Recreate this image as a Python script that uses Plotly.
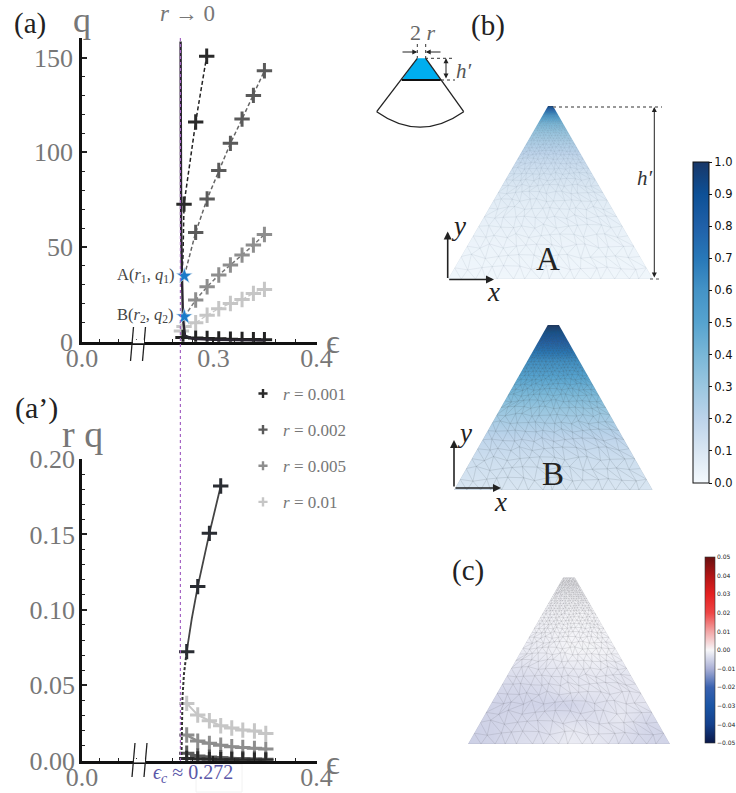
import plotly.graph_objects as go

W, H = 736, 793
SERIF = "Liberation Serif"
GREY = "#777777"

# ---------- panel (a): q vs epsilon ----------
eps_r001 = [0.2715, 0.2828, 0.2935]
q_r001 = [72.6, 116, 150.7]
eps_r001_line = [0.2690, 0.2705, 0.2715, 0.2828, 0.2935]
q_r001_line = [30, 45, 72.6, 116, 150.7]
eps_r002 = [0.2828, 0.2939, 0.3052, 0.3165, 0.3278, 0.3388, 0.3495]
q_r002 = [57.7, 75.3, 90.4, 104.7, 117.5, 130, 143]
eps_r005 = [0.2828, 0.2939, 0.3052, 0.3165, 0.3278, 0.3388, 0.3495]
q_r005 = [22, 29, 35.2, 40.5, 45.7, 51, 56.6]
eps_r01 = [0.2690, 0.2715, 0.2828, 0.2939, 0.3052, 0.3165, 0.3278, 0.3388, 0.3495]
q_r01 = [5.6, 8, 10, 14, 17.4, 20.2, 22.3, 25.5, 27.6]
eps_low = [0.2705, 0.2828, 0.2939, 0.3052, 0.3165, 0.3278, 0.3388, 0.3495]
q_low = [2.2, 1.9, 1.7, 1.5, 1.3, 1.2, 1.1, 1.0]
eps_limit = [0.2682, 0.2684, 0.2687, 0.2695, 0.2705, 0.2725, 0.28, 0.30, 0.35]
q_limit = [158.5, 100, 60, 35, 12, 3.2, 1.5, 1.0, 0.5]
star_eps = [0.2718, 0.2718]
star_q = [34.7, 13.2]

# ---------- panel (a'): r*q vs epsilon ----------
eps2_r001 = [0.2741, 0.2848, 0.2961, 0.3071]
rq_r001 = [0.0723, 0.1154, 0.1507, 0.1821]
eps2_curve = [0.2690, 0.2694, 0.2700, 0.2715, 0.2741, 0.2790, 0.2848, 0.2961, 0.3071]
rq_curve = [0.0005, 0.020, 0.042, 0.058, 0.0723, 0.094, 0.1154, 0.1507, 0.1821]
eps2_grid = [0.2741, 0.2848, 0.2961, 0.3071, 0.3178, 0.3285, 0.3398, 0.3508]
rq_r01 = [0.038, 0.0303, 0.0265, 0.0232, 0.0217, 0.0203, 0.0197, 0.0181]
rq_r005 = [0.017, 0.013, 0.0115, 0.0102, 0.0093, 0.0088, 0.0082, 0.0077]
rq_r002 = [0.0049, 0.0031, 0.0024, 0.0020, 0.0015, 0.0013, 0.0011, 0.0009]
rq_r0005 = [0.0015, 0.0011, 0.0009, 0.0007, 0.0006, 0.0005, 0.0004, 0.0003]

legend_labels = ["<i>r</i> = 0.001", "<i>r</i> = 0.002", "<i>r</i> = 0.005", "<i>r</i> = 0.01"]
series_colors = ["#2a2a2a", "#5a5a5a", "#8e8e8e", "#c6c6c6"]
x_labels_a = ["0.0", "0.3", "0.4"]
x_labels_a2 = ["0.0", "", "0.4"]

# ---------- field profiles: height above base (0) to top (1) ----------
levels_A = [0, 0.2, 0.4, 0.5, 0.6, 0.7, 0.8, 0.85, 0.9, 0.93, 0.96, 0.98, 1]
field_A = [0.015, 0.03, 0.055, 0.08, 0.12, 0.17, 0.25, 0.31, 0.40, 0.5, 0.65, 0.8, 0.97]
levels_B = [0, 0.18, 0.29, 0.39, 0.49, 0.59, 0.69, 0.79, 0.89, 0.95, 1]
field_B = [0.10, 0.14, 0.18, 0.24, 0.31, 0.40, 0.5, 0.62, 0.78, 0.88, 1.0]
levels_C = [0, 0.08, 0.16, 0.24, 0.32, 0.42, 0.55, 0.75, 1]
columns_C = [-1, -0.75, -0.5, -0.25, 0, 0.25, 0.5, 0.75, 1]
field_C = [
    [-0.0055, -0.0050, -0.0035, -0.0030, -0.0015, -0.0020, -0.0035, -0.0045, -0.0050],
    [-0.0055, -0.0050, -0.0040, -0.0035, -0.0020, -0.0025, -0.0030, -0.0045, -0.0050],
    [-0.0050, -0.0050, -0.0045, -0.0040, -0.0035, -0.0035, -0.0020, -0.0040, -0.0045],
    [-0.0050, -0.0050, -0.0050, -0.0050, -0.0050, -0.0035, -0.0025, -0.0025, -0.0040],
    [-0.0045, -0.0045, -0.0045, -0.0040, -0.0025, -0.0025, -0.0025, -0.0025, -0.0035],
    [-0.0035, -0.0035, -0.0035, -0.0030, -0.0025, -0.0020, -0.0025, -0.0025, -0.0025],
    [-0.0020, -0.0020, -0.0020, -0.0015, -0.0005, -0.0005, -0.0010, -0.0015, -0.0015],
    [-0.0008, -0.0008, -0.0008, -0.0008, -0.0003, -0.0003, -0.0008, -0.0008, -0.0008],
    [-0.0003, -0.0003, -0.0003, -0.0003, -0.0003, -0.0003, -0.0003, -0.0003, -0.0003],
]
mesh_rows = [0, 0.065, 0.13, 0.19, 0.25, 0.305, 0.36, 0.41, 0.455, 0.5, 0.54, 0.575, 0.61,
             0.64, 0.67, 0.695, 0.72, 0.74, 0.76, 0.78, 0.8, 0.815, 0.83, 0.845, 0.86,
             0.873, 0.886, 0.898, 0.91, 0.92, 0.93, 0.94, 0.95, 0.958, 0.966, 0.974, 0.982, 0.991, 1]
mesh_wobble = [0.21, -0.33, 0.08, 0.37, -0.14, -0.41, 0.29, -0.05, 0.44, -0.26, 0.12, -0.38, 0.33, -0.19, 0.03, 0.41, -0.29]

blues = [[0, "#f4f9fd"], [0.1, "#d9e6f2"], [0.2, "#bcd3ea"], [0.3, "#9bc7e0"], [0.4, "#79b7d7"],
         [0.5, "#56a3cf"], [0.6, "#4493c6"], [0.7, "#2878b8"], [0.8, "#2060a8"], [0.9, "#0d5096"], [1, "#183768"]]
seismic = [[0, "#0a1848"], [0.1, "#14408c"], [0.2, "#1a55a5"], [0.3, "#3a62b0"], [0.4, "#aab0d6"],
           [0.5, "#f7f7f9"], [0.6, "#f2a5a5"], [0.7, "#ee4545"], [0.8, "#e42020"], [0.9, "#b01515"], [1, "#681010"]]


def px(x):
    return x / W


def py(y):
    return 1 - y / H


def path_pts(pts, close=True):
    s = "M " + " L ".join(f"{px(x):.5f},{py(y):.5f}" for x, y in pts)
    return s + (" Z" if close else "")


def ann(text, x, y, size=26, color="#222222", family=SERIF):
    return dict(text=text, x=px(x), y=py(y), xref="paper", yref="paper", showarrow=False,
                xanchor="center", yanchor="middle", font=dict(size=size, color=color, family=family))


def arrow(x1, y1, x0, y0, width=1.6, head=2, size=1, side="end", color="#222222"):
    return dict(text="", x=px(x1), y=py(y1), ax=x0 - x1, ay=y0 - y1, xref="paper", yref="paper",
                axref="pixel", ayref="pixel", showarrow=True, arrowhead=head, arrowsize=size,
                arrowwidth=width, arrowcolor=color, arrowside=side, startarrowhead=head, startarrowsize=size)


def line(x0, y0, x1, y1, color="#222222", width=1, dash="solid"):
    return dict(type="line", xref="paper", yref="paper", x0=px(x0), y0=py(y0), x1=px(x1), y1=py(y1),
                line=dict(color=color, width=width, dash=dash), layer="above")


def cross_trace(x, y, color, xa, ya, size=11, lw=3):
    return go.Scatter(x=x, y=y, mode="markers", xaxis=xa, yaxis=ya, showlegend=False, hoverinfo="skip",
                      marker=dict(symbol="cross-thin", size=size, line=dict(color=color, width=lw)))


def line_trace(x, y, color, xa, ya, width=1.5, dash="4px,2.5px"):
    return go.Scatter(x=x, y=y, mode="lines", xaxis=xa, yaxis=ya, showlegend=False, hoverinfo="skip",
                      line=dict(color=color, width=width, dash=dash))


def mesh_trace(top_half, xa, ya, width_px, height_px, color):
    rows = []
    k = 0
    for i, f in enumerate(mesh_rows):
        half = 1 + (top_half - 1) * f
        gap_f = mesh_rows[i + 1] - f if i + 1 < len(mesh_rows) else f - mesh_rows[i - 1]
        n = max(1, round(width_px * half / (gap_f * height_px * 1.15)))
        row = []
        for j in range(n + 1):
            k += 1
            a = mesh_wobble[k % len(mesh_wobble)]
            b = mesh_wobble[(k * 3 + 5) % len(mesh_wobble)]
            edge = j in (0, n)
            inner_row = 0 < i < len(mesh_rows) - 1
            xv = -half + 2 * half * j / n + (0 if edge else a * 0.8 * half / n)
            yv = f + (b * 0.5 * gap_f if (inner_row and not edge) else 0)
            row.append((xv, yv))
        rows.append(row)
    xs, ys = [], []

    def seg(a, b):
        xs.extend([a[0], b[0], None])
        ys.extend([a[1], b[1], None])

    for r in rows:
        for a, b in zip(r[:-1], r[1:]):
            seg(a, b)
    for lo, hi in zip(rows[:-1], rows[1:]):
        i = j = 0
        seg(lo[0], hi[0])
        while i < len(lo) - 1 or j < len(hi) - 1:
            adv_lo = j >= len(hi) - 1 or (i < len(lo) - 1 and (i + 1) / len(lo) <= (j + 1) / len(hi))
            if adv_lo:
                i += 1
            else:
                j += 1
            seg(lo[i], hi[j])
    return go.Scatter(x=xs, y=ys, mode="lines", xaxis=xa, yaxis=ya, showlegend=False, hoverinfo="skip",
                      line=dict(color=color, width=0.5))


fig = go.Figure()

# panel (a)
fig.add_trace(line_trace(eps_r01[1:], q_r01[1:], "#c6c6c6", "x", "y", 1.2))
fig.add_trace(line_trace(star_eps[1:] + eps_r005, star_q[1:] + q_r005, "#777777", "x", "y"))
fig.add_trace(line_trace(star_eps[:1] + eps_r002, star_q[:1] + q_r002, "#666666", "x", "y"))
fig.add_trace(line_trace(eps_r001_line, q_r001_line, "#222222", "x", "y"))
fig.add_trace(cross_trace(eps_r01, q_r01, series_colors[3], "x", "y"))
fig.add_trace(cross_trace(eps_r005, q_r005, series_colors[2], "x", "y"))
fig.add_trace(cross_trace(eps_r002, q_r002, series_colors[1], "x", "y"))
fig.add_trace(cross_trace(eps_r001, q_r001, series_colors[0], "x", "y"))
fig.add_trace(cross_trace(eps_low, q_low, "#222222", "x", "y"))
fig.add_trace(line_trace(eps_limit, q_limit, "#2a2530", "x", "y", 2.4, "solid"))
fig.add_trace(go.Scatter(x=star_eps, y=star_q, mode="markers", showlegend=False, hoverinfo="skip",
                         marker=dict(symbol="star", size=12, color="#1a7ac9",
                                     line=dict(color="#dfe9f2", width=0.6))))

# panel (a')
fig.add_trace(line_trace(eps2_grid, rq_r01, "#c6c6c6", "x2", "y2", 2, "solid"))
fig.add_trace(line_trace(eps2_grid, rq_r005, "#8e8e8e", "x2", "y2", 2.5, "solid"))
fig.add_trace(line_trace(eps2_grid, rq_r002, "#5a5a5a", "x2", "y2", 2.5, "solid"))
fig.add_trace(line_trace(eps2_grid, rq_r0005, "#2a2a2a", "x2", "y2", 2.5, "solid"))
fig.add_trace(cross_trace(eps2_grid, rq_r01, series_colors[3], "x2", "y2"))
fig.add_trace(cross_trace(eps2_grid, rq_r005, series_colors[2], "x2", "y2"))
fig.add_trace(cross_trace(eps2_grid, rq_r002, series_colors[1], "x2", "y2"))
fig.add_trace(cross_trace(eps2_grid, rq_r0005, series_colors[0], "x2", "y2"))
fig.add_trace(line_trace(eps2_curve[:5], rq_curve[:5], "#333333", "x2", "y2", 2, "3px,2px"))
fig.add_trace(line_trace(eps2_curve[4:], rq_curve[4:], "#444444", "x2", "y2", 1.8, "solid"))
fig.add_trace(cross_trace(eps2_r001, rq_r001, "#2a2d33", "x2", "y2"))

# legend entries
for label, col in zip(legend_labels, series_colors):
    fig.add_trace(go.Scatter(x=[None], y=[None], mode="markers", name=label, legendgroup=label, showlegend=True,
                             xaxis="x2", yaxis="y2",
                             marker=dict(symbol="cross-thin", size=6.5, line=dict(color=col, width=2.4))))

# triangles
fig.add_trace(go.Heatmap(x=[-1, 1], y=levels_A, z=[[v, v] for v in field_A], coloraxis="coloraxis",
                         zsmooth="best", xaxis="x3", yaxis="y3", hoverinfo="skip"))
fig.add_trace(mesh_trace(0.02, "x3", "y3", 205, 173, "rgba(110,130,150,0.22)"))
fig.add_trace(go.Heatmap(x=[-1, 1], y=levels_B, z=[[v, v] for v in field_B], coloraxis="coloraxis",
                         zsmooth="best", xaxis="x4", yaxis="y4", hoverinfo="skip"))
fig.add_trace(mesh_trace(0.057, "x4", "y4", 198, 165, "rgba(70,80,90,0.3)"))
fig.add_trace(go.Heatmap(x=columns_C, y=levels_C, z=field_C, coloraxis="coloraxis2",
                         zsmooth="best", xaxis="x5", yaxis="y5", hoverinfo="skip"))
fig.add_trace(mesh_trace(0.058, "x5", "y5", 202, 167, "rgba(80,80,85,0.28)"))

# triangle boxes (left, right, top, bottom) in page pixels and top half-widths in pixels
tri_A = (448, 653, 106, 279, 2.5)
tri_B = (454, 652.7, 325, 490, 5.6)
tri_C = (468, 670, 577.3, 744, 5.9)


def domain_axes(l, r, t, b):
    return dict(domain=[l / W, r / W], visible=False, range=[-1, 1]), dict(domain=[1 - b / H, 1 - t / H], visible=False, range=[0, 1])


xa3, ya3 = domain_axes(*tri_A[:4])
xa4, ya4 = domain_axes(*tri_B[:4])
xa5, ya5 = domain_axes(*tri_C[:4])


def masks(tri):
    l, r, t, b, h = tri
    c = (l + r) / 2
    mk = dict(type="path", xref="paper", yref="paper", fillcolor="white", line=dict(width=0), layer="above")
    return [dict(mk, path=path_pts([(l - 1, t - 1), (c - h, t - 1), (c - h, t), (l, b), (l - 1, b)])),
            dict(mk, path=path_pts([(r + 1, t - 1), (c + h, t - 1), (c + h, t), (r, b), (r + 1, b)]))]


shapes = masks(tri_A) + masks(tri_B) + masks(tri_C)

# axis break marks
for (xa, xb, ytop, ybot) in [(133.5, 130.5, 327, 361), (145.5, 142.5, 327, 361),
                             (135, 132, 743, 777), (147, 144, 743, 777)]:
    shapes.append(line(xa, ytop, xb, ybot, "#222222", 1.3))
for x0, x1, yy in [(133, 144, 341.5), (134, 145, 760.7)]:
    shapes.append(line(x0, yy, x1, yy, "white", 3.5))

# critical line
shapes.append(line(180.4, 38, 180.4, 762, "#a565c4", 1.2, "dot"))
# faint box under the critical label
shapes.append(dict(type="rect", xref="paper", yref="paper", x0=px(196), x1=px(242), y0=py(764), y1=py(792),
                   line=dict(color="#f2f2f2", width=1), layer="below"))

# sector schematic
shapes.append(dict(type="path", xref="paper", yref="paper", layer="above", fillcolor="#00aeef",
                   line=dict(color="#00aeef", width=0),
                   path=path_pts([(417.3, 58.3), (425.7, 58.3), (440.7, 80), (401.7, 80)])))
shapes.append(line(417.3, 58.3, 376.7, 111.7, "#222222", 1.3))
shapes.append(line(425.7, 58.3, 463.7, 111.7, "#222222", 1.3))
shapes.append(line(401.7, 80, 440.7, 80, "#111111", 2.2))
shapes.append(dict(type="path", xref="paper", yref="paper", layer="above", line=dict(color="#222222", width=1.3),
                   path=f"M {px(376.7):.5f},{py(111.7):.5f} Q {px(420):.5f},{py(142.5):.5f} {px(463.7):.5f},{py(111.7):.5f}"))
shapes.append(line(417.3, 44, 417.3, 58, "#333333", 1, "dot"))
shapes.append(line(425.7, 44, 425.7, 58, "#333333", 1, "dot"))
shapes.append(line(425, 58.3, 455, 58.3, "#333333", 1, "dot"))
shapes.append(line(441, 80, 455, 80, "#333333", 1, "dot"))
# h' guides
shapes.append(line(553, 107, 662, 107, "#777777", 1.3, "dot"))
shapes.append(line(650, 279, 660, 279, "#555555", 1, "dot"))

annotations = [
    ann("(a)", 30, 23, 29), ann("q", 82, 20, 36, GREY), ann("<i>r</i> → 0", 187, 13, 23, GREY),
    ann("(a’)", 36, 408, 30), ann("r q", 82, 434, 38, GREY),
    ann("ϵ", 333, 342, 34, GREY), ann("ϵ", 333, 762, 34, GREY),
    ann("A(<i>r</i><sub>1</sub>, <i>q</i><sub>1</sub>)", 145, 275, 16.5, "#444444"),
    ann("B(<i>r</i><sub>2</sub>, <i>q</i><sub>2</sub>)", 145, 315, 16.5, "#444444"),
    ann("<i>ϵ<sub>c</sub></i> ≈ 0.272", 193, 773, 20, "#5b57a8"),
    ann("(b)", 488, 25, 29), ann("(c)", 468, 570, 29),
    ann("2 <i>r</i>", 423, 32, 22, "#666666"),
    ann("<i>h′</i>", 464, 71, 21, "#555555"), ann("<i>h′</i>", 645, 178, 21, "#333333"),
    ann("A", 548, 259, 33), ann("B", 553, 474, 33),
    ann("<i>y</i>", 458, 226, 27), ann("<i>x</i>", 493, 292, 27),
    ann("<i>y</i>", 465, 433, 27), ann("<i>x</i>", 500, 502, 27),
    arrow(447.7, 231.5, 447.7, 279.5), arrow(494, 279.5, 447.7, 279.5),
    arrow(454, 440, 454, 488), arrow(501, 488, 454, 488),
    arrow(654.3, 107, 654.3, 279, 1, 2, 1, "end+start"),
    arrow(446, 58.3, 446, 80, 1, 2, 1, "end+start"),
    arrow(417.3, 52, 401, 52, 1, 2, 1), arrow(425.7, 52, 442, 52, 1, 2, 1),
]

tick_font = dict(family=SERIF, size=26, color=GREY)
x_minor = [0.190, 0.208, 0.225, 0.26, 0.28, 0.32, 0.34, 0.36, 0.38]


def x_axis(anchor, labels):
    return dict(domain=[82 / W, 316.5 / W], range=[0.17255, 0.4], anchor=anchor, tickmode="array",
                tickvals=[0.17255, 0.3, 0.4], ticktext=labels, ticks="inside", ticklen=5,
                tickwidth=1.5, tickcolor="#222222", tickfont=tick_font, showgrid=False, zeroline=False,
                showline=True, linecolor="#111111", linewidth=2.5, ticklabelstandoff=-9,
                minor=dict(tickmode="array", tickvals=x_minor, ticks="inside", ticklen=3, tickwidth=1.2,
                           tickcolor="#222222", showgrid=False))


def y_axis(top, bottom, rng, tv, tt, mv, anchor, standoff):
    return dict(domain=[1 - bottom / H, 1 - top / H], range=rng, anchor=anchor, tickmode="array", tickvals=tv,
                ticktext=tt, ticks="inside", ticklen=5, tickwidth=1.5, tickcolor="#222222", tickfont=tick_font,
                showgrid=False, zeroline=False, showline=True, linecolor="#111111", linewidth=2.5,
                ticklabelstandoff=standoff,
                minor=dict(tickmode="array", tickvals=mv, ticks="inside", ticklen=3, tickwidth=1.2,
                           tickcolor="#222222", showgrid=False))


fig.update_layout(
    width=W, height=H, margin=dict(l=0, r=0, t=0, b=0, autoexpand=False), paper_bgcolor="white", plot_bgcolor="rgba(0,0,0,0)",
    xaxis=x_axis("y", x_labels_a),
    yaxis=y_axis(38, 341.7, [0, 160.3], [0, 50, 100, 150], ["0", "50", "100", "150"],
                 [v for v in range(10, 160, 10) if v % 50], "x", 1),
    xaxis2=x_axis("y2", x_labels_a2),
    yaxis2=y_axis(459, 760.7, [0, 0.2], [0, 0.05, 0.10, 0.15, 0.20], ["0.00", "0.05", "0.10", "0.15", "0.20"],
                  [v / 100 for v in range(1, 20) if v % 5], "x2", -1),
    xaxis3=dict(xa3, anchor="y3"), yaxis3=dict(ya3, anchor="x3"),
    xaxis4=dict(xa4, anchor="y4"), yaxis4=dict(ya4, anchor="x4"),
    xaxis5=dict(xa5, anchor="y5"), yaxis5=dict(ya5, anchor="x5"),
    coloraxis=dict(colorscale=blues, cmin=0, cmax=1,
                   colorbar=dict(x=693 / W, xanchor="left", y=1 - 483 / H, yanchor="bottom", thicknessmode="pixels",
                                 thickness=16, lenmode="pixels", len=321, xpad=0, ypad=0, outlinecolor="#111111",
                                 outlinewidth=1, ticks="outside", ticklen=3, tickcolor="#111111",
                                 tickvals=[i / 10 for i in range(11)], tickformat=".1f",
                                 tickfont=dict(family="DejaVu Sans", size=11.5, color="#111111"))),
    coloraxis2=dict(colorscale=seismic, cmin=-0.05, cmax=0.05,
                    colorbar=dict(x=704.5 / W, xanchor="left", y=1 - 743 / H, yanchor="bottom", thicknessmode="pixels",
                                  thickness=9.5, lenmode="pixels", len=186, xpad=0, ypad=0, outlinecolor="#333333",
                                  outlinewidth=0.6, ticks="",
                                  tickvals=[-0.05, -0.04, -0.03, -0.02, -0.01, 0, 0.01, 0.02, 0.03, 0.04, 0.05],
                                  ticktext=["−0.05", "−0.04", "−0.03", "−0.02", "−0.01", "0.00", "0.01", "0.02", "0.03", "0.04", "0.05"],
                                  tickfont=dict(family="DejaVu Sans", size=6, color="#222222"))),
    legend=dict(x=243 / W, y=1 - 376 / H, xanchor="left", yanchor="top", bgcolor="rgba(0,0,0,0)", borderwidth=0,
                tracegroupgap=11, itemwidth=30, font=dict(family=SERIF, size=17, color=GREY)),
    shapes=shapes, annotations=annotations,
)

fig.write_html("out.html", config=dict(displayModeBar=False),
               post_script="document.body.style.margin='0';document.documentElement.style.overflow='hidden';")
